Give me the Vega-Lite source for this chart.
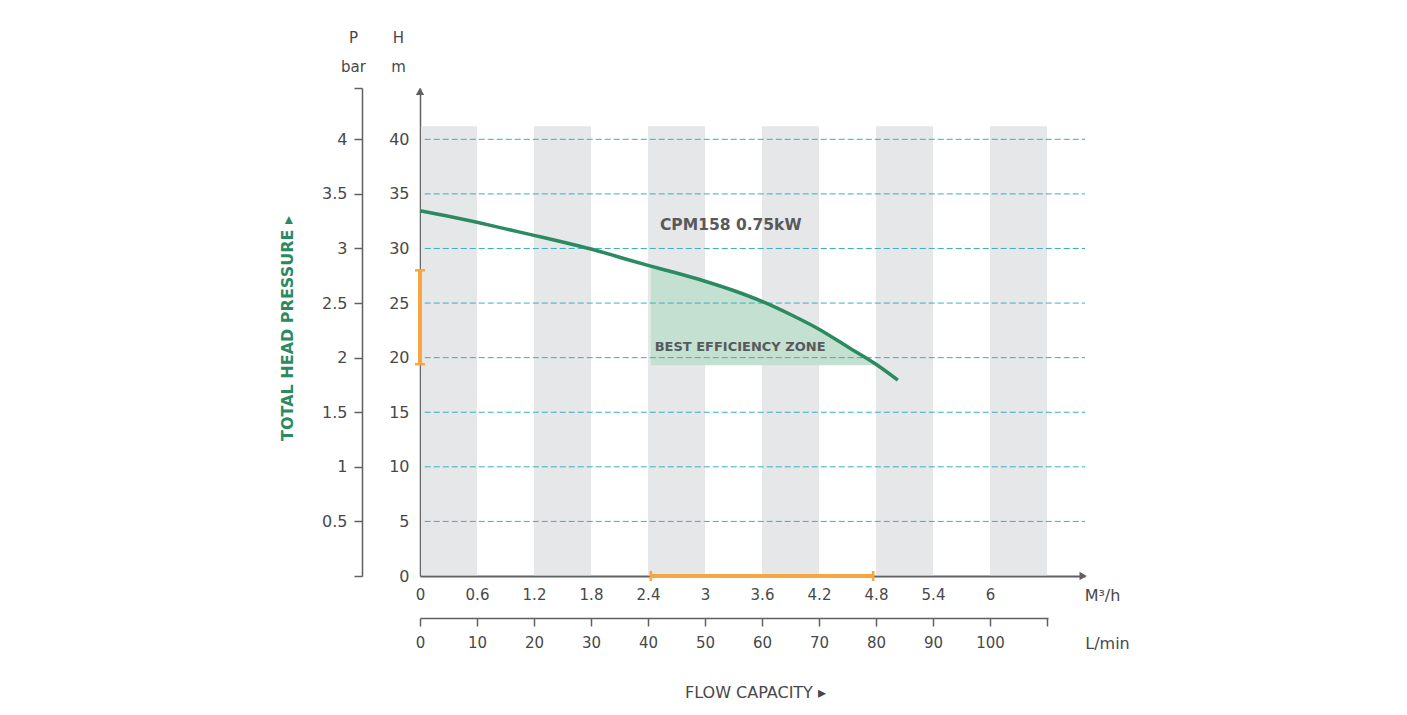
{
  "$schema": "https://vega.github.io/schema/vega-lite/v6.json",
  "width": 665,
  "height": 488,
  "autosize": {"type": "none"},
  "padding": {"left": 420, "top": 88, "right": 322, "bottom": 139},
  "background": "white",
  "config": {
    "font": "DejaVu Sans",
    "view": {"stroke": null},
    "axis": {
      "labelFlush": false,
      "labelOverlap": false,
      "labelBound": false,
      "grid": false,
      "labelColor": "#48484a",
      "titleColor": "#48484a",
      "domainColor": "#5f6062",
      "tickColor": "#5f6062",
      "labelFontSize": 15,
      "titleFontSize": 15,
      "titleFontWeight": "normal"
    }
  },
  "datasets": {
    "bands": [
      {"a": 0.01, "b": 0.6},
      {"a": 1.2, "b": 1.8},
      {"a": 2.4, "b": 3.0},
      {"a": 3.6, "b": 4.2},
      {"a": 4.8, "b": 5.4},
      {"a": 6.0, "b": 6.6}
    ],
    "grid": [
      {"h": 5}, {"h": 10}, {"h": 15}, {"h": 20},
      {"h": 25}, {"h": 30}, {"h": 35}, {"h": 40}
    ],
    "curve": [
      {"q": 0, "h": 33.45},
      {"q": 0.3, "h": 32.95},
      {"q": 0.6, "h": 32.4},
      {"q": 0.9, "h": 31.8},
      {"q": 1.2, "h": 31.2},
      {"q": 1.5, "h": 30.6},
      {"q": 1.8, "h": 29.95},
      {"q": 2.1, "h": 29.2},
      {"q": 2.4, "h": 28.45},
      {"q": 2.7, "h": 27.75},
      {"q": 3.0, "h": 27.0},
      {"q": 3.3, "h": 26.15},
      {"q": 3.6, "h": 25.15},
      {"q": 3.9, "h": 23.95},
      {"q": 4.2, "h": 22.6},
      {"q": 4.5, "h": 21.0},
      {"q": 4.8, "h": 19.4},
      {"q": 5.03, "h": 17.95}
    ],
    "zone": [
      {"q": 2.43, "h": 28.38},
      {"q": 2.7, "h": 27.75},
      {"q": 3.0, "h": 27.0},
      {"q": 3.3, "h": 26.15},
      {"q": 3.6, "h": 25.15},
      {"q": 3.9, "h": 23.95},
      {"q": 4.2, "h": 22.6},
      {"q": 4.5, "h": 21.0},
      {"q": 4.77, "h": 19.55}
    ],
    "hrange": [{"lo": 19.4, "hi": 28.0}],
    "hcaps": [{"h": 19.4}, {"h": 28.0}],
    "qrange": [{"lo": 2.43, "hi": 4.77}],
    "qcaps": [{"q": 2.43}, {"q": 4.77}],
    "model": [{"q": 2.526, "h": 31.7, "t": "CPM158 0.75kW"}],
    "zonelabel": [{"q": 2.47, "h": 20.6, "t": "BEST EFFICIENCY ZONE"}],
    "uparrow": [{"q": 0, "h": 44.4}],
    "rightarrow": [{"q": 6.98, "h": 0}]
  },
  "resolve": {
    "scale": {"x": "shared", "y": "shared"},
    "axis": {"x": "independent", "y": "independent"}
  },
  "layer": [
    {
      "data": {"name": "bands"},
      "mark": {"type": "rect", "color": "#e6e7e8"},
      "encoding": {
        "x": {
          "field": "a", "type": "quantitative",
          "scale": {"domain": [0, 7], "nice": false, "zero": false},
          "axis": {
            "orient": "bottom", "offset": 42,
            "values": [0, 0.6, 1.2, 1.8, 2.4, 3, 3.6, 4.2, 4.8, 5.4, 6, 6.6],
            "labelExpr": "datum.value > 6.5 ? '' : '' + round(datum.value / 0.06)",
            "tickSize": 8, "tickWidth": 1.5, "domainWidth": 1.5,
            "domainDash": [628, 200],
            "labelPadding": 9,
            "title": "L/min", "titleX": 687, "titleY": 30,
            "titleAlign": "center", "titleBaseline": "alphabetic", "titleFontSize": 16
          }
        },
        "x2": {"field": "b"},
        "y": {"datum": 41.2, "type": "quantitative", "axis": null,
              "scale": {"domain": [0, 44.7], "nice": false, "zero": false}},
        "y2": {"datum": 0.08}
      }
    },
    {
      "data": {"name": "zone"},
      "mark": {"type": "area", "color": "#c4e0d1", "opacity": 1},
      "encoding": {
        "x": {
          "field": "q", "type": "quantitative",
          "axis": {
            "orient": "bottom", "offset": 42,
            "labels": false, "ticks": false, "domain": false,
            "title": "FLOW CAPACITY ▸", "titleX": 335, "titleY": 79,
            "titleAlign": "center", "titleBaseline": "alphabetic", "titleFontSize": 16
          }
        },
        "y": {
          "field": "h", "type": "quantitative",
          "axis": {
            "orient": "left", "offset": 58,
            "labels": false, "ticks": false, "domain": false,
            "title": "TOTAL HEAD PRESSURE ▸", "titleX": -75, "titleY": 240,
            "titleAngle": -90, "titleAlign": "center", "titleBaseline": "middle",
            "titleFontSize": 16, "titleFontWeight": "bold", "titleColor": "#2b8a60"
          }
        },
        "y2": {"datum": 19.3}
      }
    },
    {
      "data": {"name": "grid"},
      "mark": {"type": "rule", "color": "#3aaec4", "strokeWidth": 1, "strokeDash": [6, 3]},
      "encoding": {
        "y": {
          "field": "h", "type": "quantitative",
          "axis": {
            "orient": "left",
            "values": [0, 5, 10, 15, 20, 25, 30, 35, 40],
            "ticks": false, "labelPadding": 11, "domainWidth": 1.5, "labelFontSize": 16,
            "title": ["H", "m"], "titleAngle": 0, "titleX": -22, "titleY": -46,
            "titleAlign": "center", "titleBaseline": "alphabetic",
            "titleLineHeight": 29, "titleFontSize": 15
          }
        },
        "x": {"datum": 0.05, "type": "quantitative", "axis": null},
        "x2": {"datum": 7}
      }
    },
    {
      "data": {"name": "curve"},
      "mark": {"type": "line", "color": "#2b8a60", "strokeWidth": 3.5, "interpolate": "monotone"},
      "encoding": {
        "x": {
          "field": "q", "type": "quantitative",
          "axis": {
            "orient": "bottom",
            "values": [0, 0.6, 1.2, 1.8, 2.4, 3, 3.6, 4.2, 4.8, 5.4, 6],
            "labelExpr": "'' + datum.value",
            "ticks": false, "labelPadding": 11, "domainWidth": 2,
            "title": "M³/h", "titleX": 682, "titleY": 24,
            "titleAlign": "center", "titleBaseline": "alphabetic", "titleFontSize": 16
          }
        },
        "y": {
          "field": "h", "type": "quantitative",
          "axis": {
            "orient": "left", "offset": 58,
            "values": [0, 5, 10, 15, 20, 25, 30, 35, 40, 44.7],
            "labelExpr": "datum.value == 0 || datum.value > 41 ? '' : '' + datum.value / 10",
            "tickSize": 8, "tickWidth": 1.5, "domainWidth": 1.5, "labelPadding": 7,
            "labelFontSize": 16,
            "title": ["P", "bar"], "titleAngle": 0, "titleX": -9, "titleY": -46,
            "titleAlign": "center", "titleBaseline": "alphabetic",
            "titleLineHeight": 29, "titleFontSize": 15
          }
        }
      }
    },
    {
      "data": {"name": "hrange"},
      "mark": {"type": "rule", "color": "#f7a541", "strokeWidth": 4},
      "encoding": {
        "x": {"datum": 0, "type": "quantitative", "axis": null},
        "y": {"field": "lo", "type": "quantitative", "axis": null},
        "y2": {"field": "hi"}
      }
    },
    {
      "data": {"name": "hcaps"},
      "mark": {"type": "tick", "orient": "horizontal", "color": "#f7a541", "size": 10, "thickness": 2.5, "opacity": 1},
      "encoding": {
        "x": {"datum": 0, "type": "quantitative", "axis": null},
        "y": {"field": "h", "type": "quantitative", "axis": null}
      }
    },
    {
      "data": {"name": "qrange"},
      "mark": {"type": "rule", "color": "#f7a541", "strokeWidth": 4},
      "encoding": {
        "y": {"datum": 0, "type": "quantitative", "axis": null},
        "x": {"field": "lo", "type": "quantitative", "axis": null},
        "x2": {"field": "hi"}
      }
    },
    {
      "data": {"name": "qcaps"},
      "mark": {"type": "tick", "orient": "vertical", "color": "#f7a541", "size": 10, "thickness": 2.5, "opacity": 1},
      "encoding": {
        "y": {"datum": 0, "type": "quantitative", "axis": null},
        "x": {"field": "q", "type": "quantitative", "axis": null}
      }
    },
    {
      "data": {"name": "model"},
      "mark": {"type": "text", "align": "left", "baseline": "alphabetic", "fontSize": 15.5, "fontWeight": "bold", "color": "#58595b"},
      "encoding": {
        "x": {"field": "q", "type": "quantitative", "axis": null},
        "y": {"field": "h", "type": "quantitative", "axis": null},
        "text": {"field": "t"}
      }
    },
    {
      "data": {"name": "zonelabel"},
      "mark": {"type": "text", "align": "left", "baseline": "alphabetic", "fontSize": 13, "fontWeight": "bold", "color": "#58595b"},
      "encoding": {
        "x": {"field": "q", "type": "quantitative", "axis": null},
        "y": {"field": "h", "type": "quantitative", "axis": null},
        "text": {"field": "t"}
      }
    },
    {
      "data": {"name": "uparrow"},
      "mark": {"type": "point", "shape": "triangle-up", "filled": true, "opacity": 1, "color": "#5f6062", "size": 70},
      "encoding": {
        "x": {"field": "q", "type": "quantitative", "axis": null},
        "y": {"field": "h", "type": "quantitative", "axis": null}
      }
    },
    {
      "data": {"name": "rightarrow"},
      "mark": {"type": "point", "shape": "triangle-right", "filled": true, "opacity": 1, "color": "#5f6062", "size": 70},
      "encoding": {
        "x": {"field": "q", "type": "quantitative", "axis": null},
        "y": {"field": "h", "type": "quantitative", "axis": null}
      }
    }
  ]
}
